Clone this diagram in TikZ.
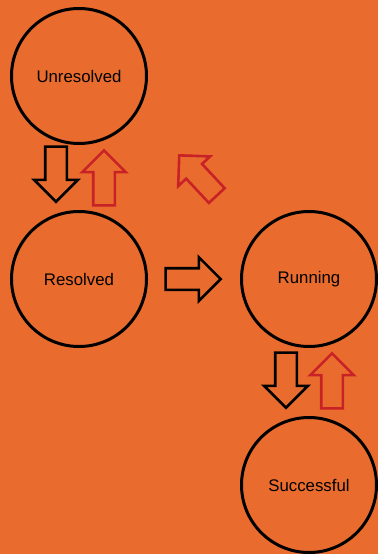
\documentclass[tikz,border=0pt]{standalone}
\usepackage{fontspec}
\setmainfont{Liberation Sans}
\usetikzlibrary{shapes.arrows}

\definecolor{bgorange}{RGB}{233,108,46}
\definecolor{backred}{RGB}{200,34,38}

\tikzset{
  state/.style={circle,draw=black,line width=3pt,minimum size=135pt,inner sep=0pt,
    font=\fontsize{16.8}{20}\selectfont},
  blockarrow/.style={single arrow,draw=#1,line width=2.6pt,minimum height=55pt,
    inner xsep=0pt,inner ysep=9.5pt,single arrow head extend=11pt,anchor=tip},
  fwd/.style={blockarrow=black},
  back/.style={blockarrow=backred}
}

\begin{document}
\begin{tikzpicture}[x=1pt,y=-1pt]
  \fill[bgorange] (0,0) rectangle (378,554);
  \useasboundingbox (0,0) rectangle (378,554);

  % states
  \node[state] (unresolved) at (79,76) {Unresolved};
  \node[state] (resolved) at (79,279) {Resolved};
  \node[state] (running) at (309,279) {Running};
  \node[state] (successful) at (309,485) {Successful};

  % forward steps (placed by their tips)
  \node[fwd,rotate=-90] (resolve) at (56,203.5) {};
  \node[fwd] (run) at (222.5,279) {};
  \node[fwd,rotate=-90] (finish) at (286,409.5) {};

  % steps back
  \node[back,rotate=90] (unresolve) at (104,148.5) {};
  \node[back,rotate=133] (reset) at (178,154) {};
  \node[back,rotate=90] (rerun) at (332,351.5) {};
\end{tikzpicture}
\end{document}
